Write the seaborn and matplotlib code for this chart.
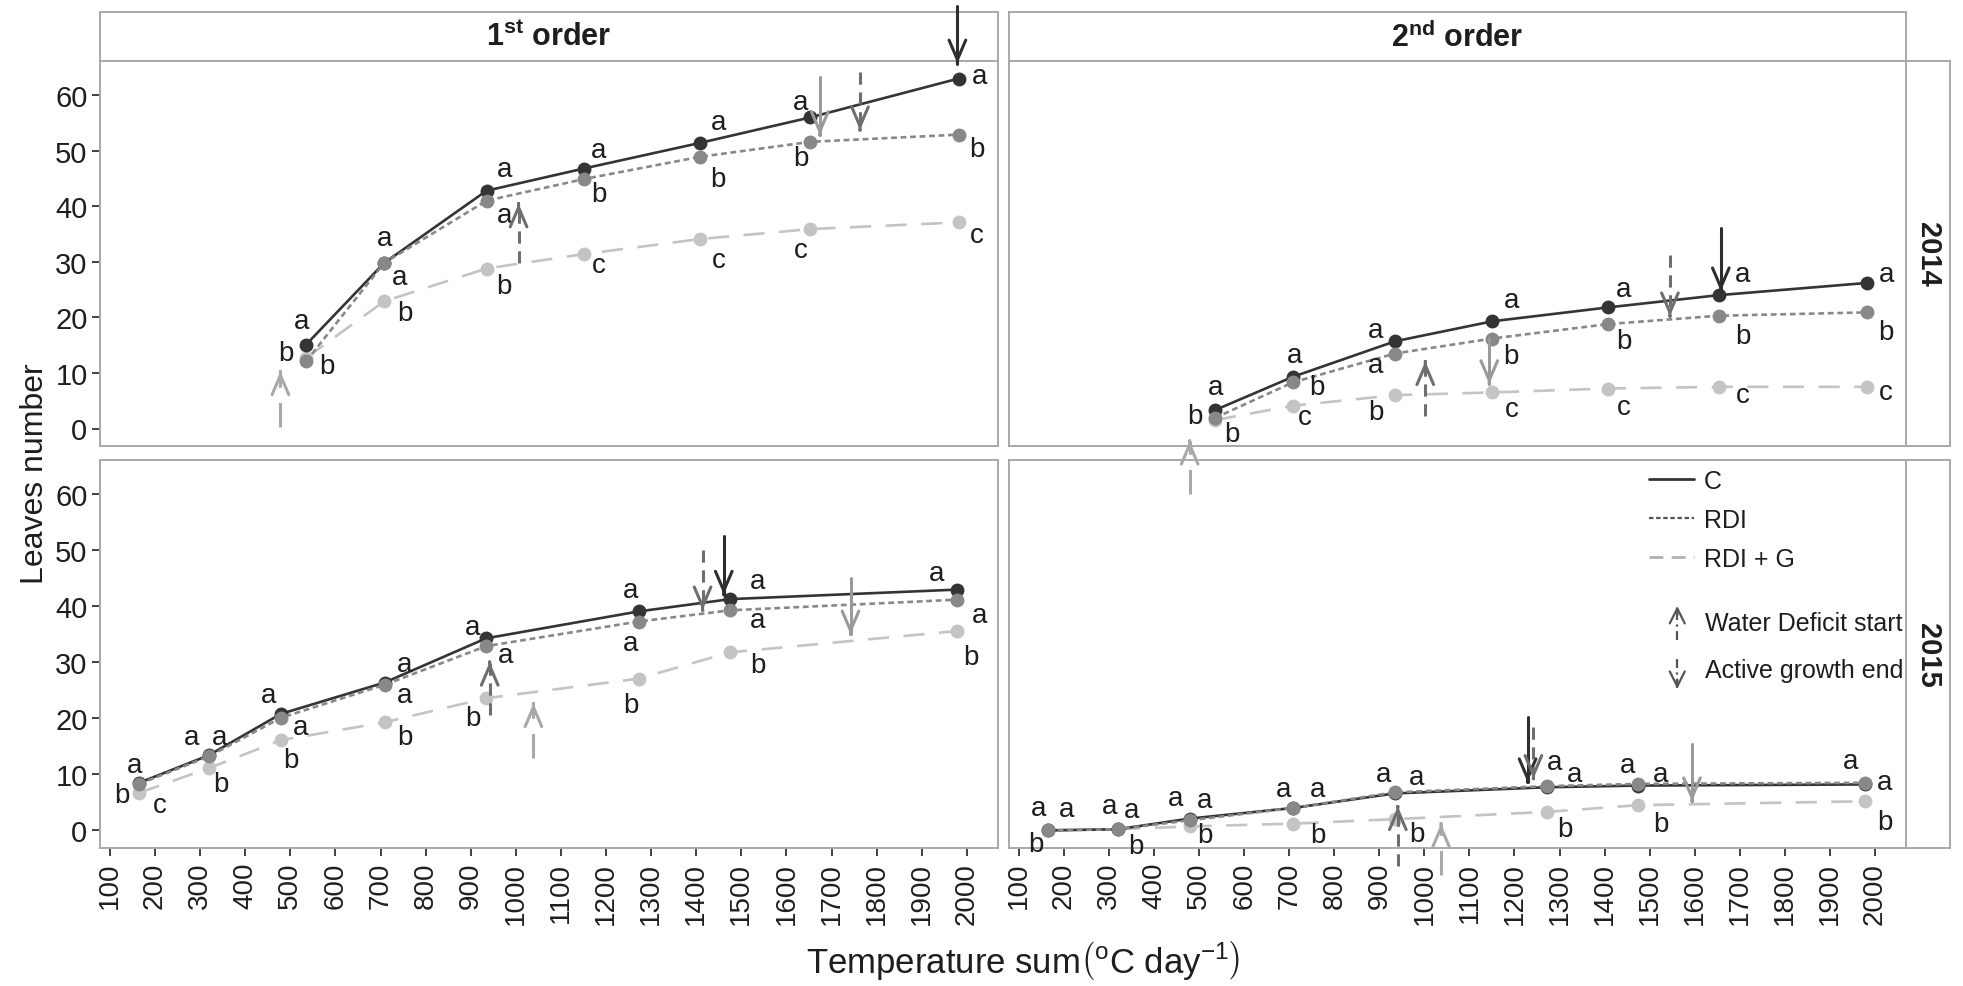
import matplotlib
matplotlib.use("Agg")
import pandas as pd
import matplotlib.pyplot as plt
import seaborn as sns
from matplotlib import font_manager
from matplotlib.lines import Line2D

# sampling dates (temperature sum) for each season
temp_2014 = [535, 708, 935, 1151, 1408, 1653, 1982]
temp_2015 = [165, 319, 479, 709, 934, 1272, 1475, 1978]

treatments = ["C", "RDI", "RDI + G"]

# 1st order shoots
c_1st_2014 = [15.1, 29.8, 42.8, 46.8, 51.4, 56.0, 63.0]
rdi_1st_2014 = [12.1, 29.8, 41.0, 44.9, 48.9, 51.6, 52.9]
rdig_1st_2014 = [12.7, 22.9, 28.8, 31.4, 34.1, 35.9, 37.1]

c_1st_2015 = [8.5, 13.4, 20.8, 26.4, 34.3, 39.1, 41.3, 43.0]
rdi_1st_2015 = [8.3, 13.2, 20.1, 26.0, 32.9, 37.3, 39.3, 41.2]
rdig_1st_2015 = [6.7, 11.1, 16.1, 19.3, 23.6, 27.1, 31.8, 35.6]

# 2nd order shoots
c_2nd_2014 = [3.3, 9.3, 15.7, 19.3, 21.8, 24.0, 26.2]
rdi_2nd_2014 = [1.9, 8.3, 13.5, 16.2, 18.8, 20.3, 20.9]
rdig_2nd_2014 = [1.5, 4.1, 6.0, 6.5, 7.2, 7.5, 7.5]

c_2nd_2015 = [0.0, 0.2, 2.1, 4.0, 6.6, 7.7, 8.0, 8.2]
rdi_2nd_2015 = [0.0, 0.2, 1.8, 4.0, 6.8, 7.9, 8.3, 8.5]
rdig_2nd_2015 = [0.0, 0.2, 0.7, 1.2, 2.0, 3.3, 4.5, 5.2]

# significance letters (x, y, letter)
letters_1st_2014 = [
    (526, 19.3, "a"), (491, 13.6, "b"), (580, 11.2, "b"),
    (708, 34.3, "a"), (743, 27.2, "a"), (753, 20.8, "b"),
    (974, 46.7, "a"), (974, 38.5, "a"), (974, 25.6, "b"),
    (1184, 50.2, "a"), (1184, 42.2, "b"), (1184, 29.5, "c"),
    (1449, 55.2, "a"), (1449, 45.0, "b"), (1449, 30.4, "c"),
    (1631, 58.8, "a"), (1631, 48.7, "b"), (1631, 32.2, "c"),
    (2029, 63.4, "a"), (2022, 50.4, "b"), (2022, 34.9, "c"),
]
letters_2nd_2014 = [
    (536, 7.5, "a"), (490, 2.3, "b"), (572, -1.0, "b"),
    (711, 13.3, "a"), (762, 7.5, "b"), (735, 2.1, "c"),
    (892, 17.8, "a"), (892, 11.5, "a"), (892, 2.9, "b"),
    (1193, 23.2, "a"), (1193, 13.0, "b"), (1193, 3.5, "c"),
    (1443, 25.1, "a"), (1443, 15.7, "b"), (1443, 3.9, "c"),
    (1707, 27.8, "a"), (1707, 16.6, "b"), (1707, 6.0, "c"),
    (2025, 27.8, "a"), (2025, 17.3, "b"), (2025, 6.5, "c"),
]
letters_1st_2015 = [
    (154, 11.7, "a"), (126, 6.4, "b"), (211, 4.6, "c"),
    (282, 16.7, "a"), (343, 16.7, "a"), (346, 8.3, "b"),
    (452, 24.1, "a"), (523, 18.4, "a"), (502, 12.6, "b"),
    (753, 29.8, "a"), (753, 24.1, "a"), (753, 16.6, "b"),
    (904, 36.4, "a"), (978, 31.3, "a"), (904, 20.0, "b"),
    (1255, 43.0, "a"), (1255, 33.5, "a"), (1255, 22.4, "b"),
    (1536, 44.5, "a"), (1536, 37.5, "a"), (1536, 29.5, "b"),
    (1932, 45.9, "a"), (2029, 38.4, "a"), (2008, 31.0, "b"),
]
letters_2nd_2015 = [
    (144, 4.0, "a"), (205, 3.8, "a"), (137, -2.5, "b"),
    (301, 4.3, "a"), (349, 3.6, "a"), (359, -2.8, "b"),
    (447, 5.7, "a"), (513, 5.4, "a"), (513, -0.9, "b"),
    (688, 7.4, "a"), (763, 7.4, "a"), (763, -0.9, "b"),
    (910, 10.1, "a"), (983, 9.5, "a"), (983, -0.6, "b"),
    (1290, 12.2, "a"), (1334, 10.1, "a"), (1311, 0.3, "b"),
    (1450, 11.7, "a"), (1525, 10.1, "a"), (1525, 1.2, "b"),
    (1947, 12.4, "a"), (2022, 8.7, "a"), (2022, 1.5, "b"),
]

# phenology arrows (x, y from, y to, treatment)
arrows_1st_2014 = [(478, 0.2, 10.3, "RDI + G"), (1006, 29.8, 40.5, "RDI"),
                   (1674, 63.2, 52.8, "RDI + G end"), (1763, 64.2, 53.7, "RDI"),
                   (1979, 76.1, 65.7, "C")]
arrows_2nd_2014 = [(479, -11.8, -2.2, "RDI + G"), (1002, 2.3, 12.1, "RDI"),
                   (1144, 16.3, 8.0, "RDI + G end"), (1545, 31.3, 20.2, "RDI"),
                   (1658, 36.1, 24.7, "C")]
arrows_1st_2015 = [(942, 20.6, 30.1, "RDI"), (1039, 12.9, 22.7, "RDI + G"),
                   (1414, 50.1, 39.3, "RDI"), (1461, 52.5, 42.1, "C"),
                   (1742, 45.1, 35.0, "RDI + G end")]
arrows_2nd_2015 = [(941, -6.4, 4.3, "RDI"), (1037, -8.0, 1.2, "RDI + G"),
                   (1229, 20.3, 8.6, "C"), (1242, 18.4, 9.2, "RDI"),
                   (1594, 15.4, 5.2, "RDI + G end")]

rows = []
panel_series = {
    ("1st", 2014): (temp_2014, c_1st_2014, rdi_1st_2014, rdig_1st_2014),
    ("2nd", 2014): (temp_2014, c_2nd_2014, rdi_2nd_2014, rdig_2nd_2014),
    ("1st", 2015): (temp_2015, c_1st_2015, rdi_1st_2015, rdig_1st_2015),
    ("2nd", 2015): (temp_2015, c_2nd_2015, rdi_2nd_2015, rdig_2nd_2015),
}
for (order, year), (temps, *series) in panel_series.items():
    for trt, vals in zip(treatments, series):
        for t, v in zip(temps, vals):
            rows.append({"order": order, "year": year, "trt": trt, "temp": t, "leaves": v})
df = pd.DataFrame(rows)

panel_letters = {("1st", 2014): letters_1st_2014, ("2nd", 2014): letters_2nd_2014,
                 ("1st", 2015): letters_1st_2015, ("2nd", 2015): letters_2nd_2015}
panel_arrows = {("1st", 2014): arrows_1st_2014, ("2nd", 2014): arrows_2nd_2014,
                ("1st", 2015): arrows_1st_2015, ("2nd", 2015): arrows_2nd_2015}

sns.set_style("white")
names = {f.name for f in font_manager.fontManager.ttflist}
REG = "Liberation Sans" if "Liberation Sans" in names else "DejaVu Sans"
NARROW = "Liberation Sans Narrow" if "Liberation Sans Narrow" in names else REG
plt.rcParams["font.family"] = [REG, "DejaVu Sans"]
plt.rcParams["mathtext.fontset"] = "custom"
plt.rcParams["mathtext.rm"] = REG
plt.rcParams["mathtext.bf"] = REG + ":bold"
plt.rcParams["mathtext.it"] = REG + ":italic"

palette = {"C": "#343434", "RDI": "#888888", "RDI + G": "#c4c4c4"}
dashes = {"C": "", "RDI": (2.2, 1.4), "RDI + G": (8, 5.5)}
markers = {"C": "o", "RDI": "o", "RDI + G": "o"}
arrow_style = {"C": ("#2e2e2e", "-"), "RDI": ("#6e6e6e", (0, (4, 2.5))),
               "RDI + G": ("#a8a8a8", (0, (8, 5))), "RDI + G end": ("#9a9a9a", "-")}


def draw_arrow(ax, x, y0, y1, kind):
    col, ls = arrow_style[kind]
    ax.plot([x, x], [y0, y1], color=col, ls=ls, lw=2.2, clip_on=False, zorder=5)
    d = 0.05 if y1 > y0 else -0.05
    ax.annotate("", xy=(x, y1), xytext=(x, y1 - d), annotation_clip=False,
                arrowprops=dict(arrowstyle="->,head_length=0.7,head_width=0.3",
                                color=col, lw=2.2, shrinkA=0, shrinkB=0,
                                mutation_scale=20), zorder=5)


W, H = 1963, 987
fig = plt.figure(figsize=(W / 100, H / 100), dpi=100)
col_x = {"1st": (100, 998), "2nd": (1009, 1906)}
row_y = {2014: (62, 447), 2015: (461, 849)}
edge = "#a9a9a9"

# facet strips (drawn below the panels so arrows can overlap them)
strip_titles = {"1st": "1$^{\\mathbf{st}}$ order", "2nd": "2$^{\\mathbf{nd}}$ order"}
for order, (x0, x1) in col_x.items():
    sa = fig.add_axes([x0 / W, 1 - 62 / H, (x1 - x0) / W, 49 / H], facecolor="white")
    sa.set_zorder(1)
    sa.set_xticks([])
    sa.set_yticks([])
    for s in sa.spines.values():
        s.set_color(edge)
        s.set_linewidth(1.4)
    sa.text(0.5, 0.5, strip_titles[order], ha="center", va="center", fontsize=22,
            fontweight="bold", color="#1e1e1e", transform=sa.transAxes)
for year, (y0, y1) in row_y.items():
    sa = fig.add_axes([1906 / W, 1 - y1 / H, 44 / W, (y1 - y0) / H], facecolor="white")
    sa.set_zorder(1)
    sa.set_xticks([])
    sa.set_yticks([])
    for s in sa.spines.values():
        s.set_color(edge)
        s.set_linewidth(1.4)
    sa.text(0.5, 0.5, str(year), ha="center", va="center", rotation=-90, fontsize=21,
            fontweight="bold", color="#1e1e1e", transform=sa.transAxes)

for (order, year), lets in panel_letters.items():
    x0, x1 = col_x[order]
    y0, y1 = row_y[year]
    ax = fig.add_axes([x0 / W, 1 - y1 / H, (x1 - x0) / W, (y1 - y0) / H])
    ax.set_zorder(4 if year == 2014 else 3)
    sub = df[(df["order"] == order) & (df["year"] == year)]
    sns.lineplot(data=sub, x="temp", y="leaves", hue="trt", style="trt",
                 hue_order=["RDI + G", "C", "RDI"], style_order=["RDI + G", "C", "RDI"],
                 palette=palette, dashes=dashes, markers=markers, markersize=10,
                 markeredgewidth=0, linewidth=1.9, legend=False, ax=ax)
    ax.set_xlim(78, 2069)
    ax.set_ylim(-3.15, 66.15)
    ax.set_xticks(range(100, 2001, 100))
    ax.set_yticks(range(0, 61, 10))
    ax.set_xlabel("")
    ax.set_ylabel("")
    for s in ax.spines.values():
        s.set_color(edge)
        s.set_linewidth(1.4)
    ax.tick_params(axis="both", length=6, width=1.3, color="#333333", direction="out")
    ax.tick_params(axis="x", bottom=(year == 2015), labelbottom=(year == 2015),
                   labelrotation=90, labelsize=20, labelcolor="#1e1e1e", pad=4)
    ax.tick_params(axis="y", left=(order == "1st"), labelleft=(order == "1st"),
                   labelsize=21, labelcolor="#1e1e1e", pad=3)
    for lab in ax.get_yticklabels():
        lab.set_family(NARROW)

    for x, y, s in lets:
        ax.text(x, y, s, ha="center", va="center", fontsize=20, family=NARROW, color="#1e1e1e")
    for x, ya, yb, kind in panel_arrows[(order, year)]:
        draw_arrow(ax, x, ya, yb, kind)

    if order == "2nd" and year == 2015:
        handles = [Line2D([], [], color="#333333", lw=2),
                   Line2D([], [], color="#555555", lw=1.6, ls=(0, (2, 1.2))),
                   Line2D([], [], color="#b0b0b0", lw=2, ls=(0, (5, 3)))]
        leg = ax.legend(handles, treatments, loc="upper left", bbox_to_anchor=(0.713, 0.978),
                        frameon=False, handlelength=1.8, handletextpad=0.4,
                        labelspacing=0.6, borderpad=0, borderaxespad=0,
                        prop={"family": NARROW, "size": 18})
        for t in leg.get_texts():
            t.set_color("#1e1e1e")
        # arrow keys
        ax.plot([0.745, 0.745], [0.536, 0.622], color="#555555", ls=(0, (4, 2, 1, 2)),
                lw=1.6, transform=ax.transAxes)
        ax.annotate("", xy=(0.745, 0.624), xytext=(0.745, 0.60), xycoords="axes fraction",
                    arrowprops=dict(arrowstyle="->,head_length=0.6,head_width=0.3",
                                    color="#555555", lw=1.6, shrinkA=0, shrinkB=0,
                                    mutation_scale=18))
        ax.plot([0.745, 0.745], [0.412, 0.497], color="#555555", ls=(0, (4, 2, 1, 2)),
                lw=1.6, transform=ax.transAxes)
        ax.annotate("", xy=(0.745, 0.410), xytext=(0.745, 0.434), xycoords="axes fraction",
                    arrowprops=dict(arrowstyle="->,head_length=0.6,head_width=0.3",
                                    color="#555555", lw=1.6, shrinkA=0, shrinkB=0,
                                    mutation_scale=18))
        ax.text(0.776, 0.580, "Water Deficit start", transform=ax.transAxes, va="center",
                fontsize=18, family=NARROW, color="#1e1e1e")
        ax.text(0.776, 0.459, "Active growth end", transform=ax.transAxes, va="center",
                fontsize=18, family=NARROW, color="#1e1e1e")

fig.text(0.018, 0.52, "Leaves number", rotation=90, ha="center", va="center",
         fontsize=23, color="#1e1e1e")
fig.text(0.521, 0.027, "Temperature sum$\\left(^{\\mathrm{o}}\\mathrm{C\\ day}^{-1}\\right)$",
         ha="center", va="center", fontsize=25, color="#1e1e1e")

fig.savefig("out.png", dpi=100, facecolor="white")
